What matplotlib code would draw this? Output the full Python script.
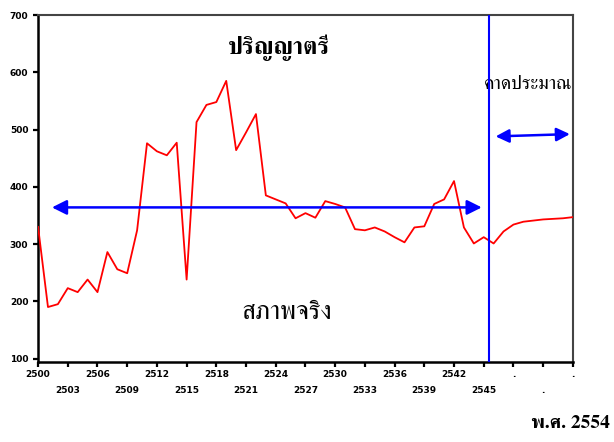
import matplotlib
matplotlib.use("Agg")
import matplotlib.pyplot as plt
from matplotlib import font_manager
from matplotlib.ft2font import FT2Font


def thai_font():
    # look for an installed font with Thai glyphs, serif one first
    found = []
    for f in font_manager.fontManager.ttflist:
        try:
            if 0x0E1B in FT2Font(f.fname).get_charmap():
                found.append(f.name)
        except Exception:
            pass
    for name in found:
        if "Serif" in name:
            return name
    return found[0] if found else "DejaVu Sans"


THAI = thai_font()

years = list(range(2500, 2555))
values = [330, 190, 195, 223, 216, 238, 216, 286, 256, 249,
          324, 476, 462, 455, 477, 238, 513, 543, 548, 585,
          464, 495, 527, 385, 378, 371, 345, 354, 346, 375,
          370, 364, 326, 324, 329, 322, 312, 303, 329, 331,
          370, 378, 410, 329, 301, 312, 301, 322, 334, 339,
          341, 343, 344, 345, 347]

upper_ticks = [2500, 2506, 2512, 2518, 2524, 2530, 2536, 2542, 2548, 2554]
upper_labels = ["2500", "2506", "2512", "2518", "2524", "2530", "2536", "2542", ".", "."]
lower_ticks = [2503, 2509, 2515, 2521, 2527, 2533, 2539, 2545, 2551]
lower_labels = ["2503", "2509", "2515", "2521", "2527", "2533", "2539", "2545", "."]
yticks = [100, 200, 300, 400, 500, 600, 700]

forecast_start = 2545.55

fig = plt.figure(figsize=(6.14, 4.42), dpi=100)
ax = fig.add_axes([0.062, 0.181, 0.871, 0.785])

ax.plot(years, values, color="red", lw=1.3, zorder=3)

ax.set_xlim(2500, 2554)
ax.set_ylim(94, 700)

ax.axvline(forecast_start, color="#0000ff", lw=1.5, zorder=4)
ax.annotate("", xy=(2501.4, 364), xytext=(2544.8, 364),
            arrowprops=dict(arrowstyle="<|-|>", color="#0000ff", lw=1.8,
                            mutation_scale=22, shrinkA=0, shrinkB=0))
ax.annotate("", xy=(2546.2, 488), xytext=(2553.7, 492),
            arrowprops=dict(arrowstyle="<|-|>", color="#0000ff", lw=1.8,
                            mutation_scale=20, shrinkA=0, shrinkB=0))

ax.text(0.45, 0.905, "ปริญญาตรี", transform=ax.transAxes, family=[THAI, "DejaVu Sans"],
        fontsize=17.5, fontweight="bold", ha="center", va="center")
ax.text(1.0, 0.80, "คาดประมาณ", transform=ax.transAxes, family=[THAI, "DejaVu Sans"],
        fontsize=14, ha="right", va="center", clip_on=False)
ax.text(0.465, 0.14, "สภาพจริง", transform=ax.transAxes, family=[THAI, "DejaVu Sans"],
        fontsize=19, ha="center", va="center")
fig.text(0.993, 0.022, "พ.ศ. 2554", family=[THAI, "Liberation Serif"],
         fontsize=14, fontweight="bold", ha="right", va="bottom")

ax.set_yticks(yticks)
ax.set_yticklabels([str(v) for v in yticks])
ax.set_xticks(upper_ticks)
ax.set_xticklabels(upper_labels)
ax.set_xticks(lower_ticks, minor=True)
ax.set_xticklabels(lower_labels, minor=True)

ax.tick_params(axis="both", which="both", direction="out", length=3.5, width=1.6,
               labelsize=6.5, color="black")
ax.tick_params(axis="x", which="major", pad=2)
ax.tick_params(axis="x", which="minor", pad=14)
for lab in ax.get_xticklabels(which="both") + ax.get_yticklabels():
    lab.set_fontweight("bold")

for side in ["left", "bottom"]:
    ax.spines[side].set_linewidth(1.8)
    ax.spines[side].set_color("black")
for side in ["top", "right"]:
    ax.spines[side].set_linewidth(1.5)
    ax.spines[side].set_color("#444444")

fig.savefig("out.png", dpi=100)
